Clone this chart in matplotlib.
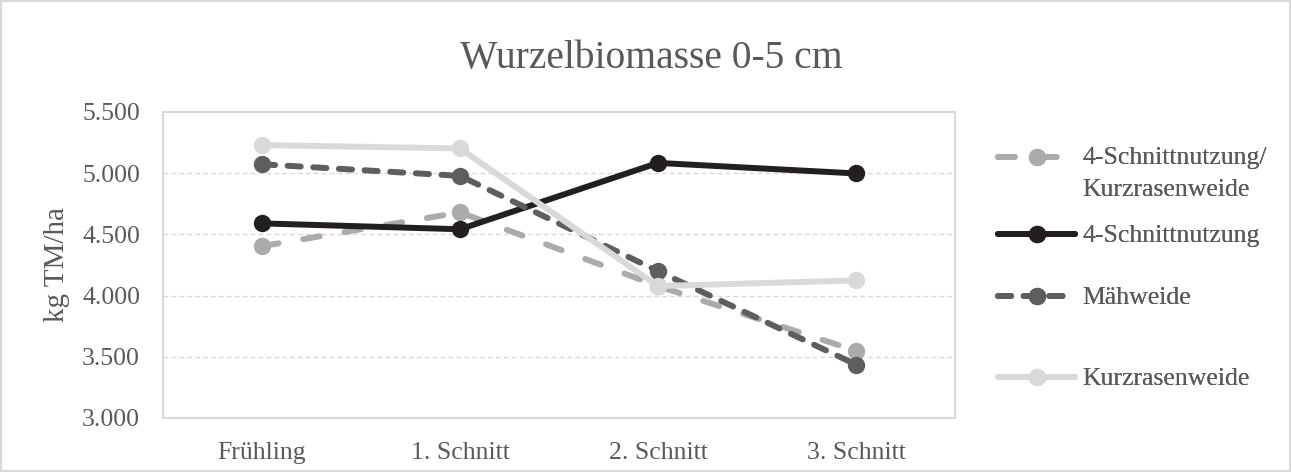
import matplotlib
matplotlib.use("Agg")
import matplotlib.pyplot as plt
from matplotlib.ticker import FuncFormatter, FixedLocator
from matplotlib.transforms import Affine2D
from matplotlib.lines import Line2D

categories = ["Frühling", "1. Schnitt", "2. Schnitt", "3. Schnitt"]
series_names = ["4-Schnittnutzung/\nKurzrasenweide", "4-Schnittnutzung", "Mähweide", "Kurzrasenweide"]
vier_kurz = [4404, 4680, 4078, 3549]
vier_schnitt = [4590, 4542, 5084, 4998]
maehweide = [5073, 4978, 4200, 3437]
kurzrasen = [5230, 5202, 4078, 4124]
y_ticks = [3000, 3500, 4000, 4500, 5000, 5500]

plt.rcParams['font.family'] = ['Liberation Serif', 'DejaVu Serif']
TXT = '#595959'
GRID = '#D9D9D9'

fig = plt.figure(figsize=(12.91, 4.72), dpi=100)
fig.patch.set_facecolor('white')
fig.patch.set_edgecolor(GRID)
fig.patch.set_linewidth(1.5)

ax = fig.add_axes([163/1291, 54/472, 792/1291, 306/472])

LW = 4.3
styles = [
    dict(color='#ABABAB', ls=(0, (2.8, 4.2))),
    dict(color='#231F20', ls='-'),
    dict(color='#5E5E5E', ls=(0, (2.2, 2.1))),
    dict(color='#D9D9D9', ls='-'),
]
data = [vier_kurz, vier_schnitt, maehweide, kurzrasen]
x = list(range(len(categories)))
lines = []
for i, (vals, st, name) in enumerate(zip(data, styles, series_names)):
    ln, = ax.plot(x, vals, color=st['color'], linestyle=st['ls'], linewidth=LW,
                  marker='o', markersize=11.5, markerfacecolor=st['color'],
                  markeredgecolor=st['color'], label=name, zorder=3 + i,
                  solid_capstyle='round', dash_capstyle='round')
    lines.append(ln)

ax.set_xlim(-0.5, len(categories) - 0.5)
ax.set_ylim(3000, 5500)
ax.set_xticks(x)
ax.set_xticklabels(categories)
ax.yaxis.set_major_locator(FixedLocator(y_ticks))
ax.yaxis.set_major_formatter(FuncFormatter(lambda v, p: f"{v:,.0f}".replace(",", ".")))
ax.tick_params(axis='both', length=0, labelsize=18.5, colors=TXT)
ax.tick_params(axis='x', pad=17)
ax.tick_params(axis='y', pad=16.5)
for t in ax.get_yticks():
    if 3000 < t < 5500:
        ax.axhline(t, color=GRID, lw=1.0, ls=(0, (3.5, 2.2)), zorder=1)
for s in ax.spines.values():
    s.set_color(GRID)
    s.set_linewidth(1.5)

ax.set_ylabel("kg TM/ha", fontsize=21, color=TXT)
ax.yaxis.set_label_coords((70 - 163) / 792, 0.5)
fig.text(651/1291, 1 - 68/472, "Wurzelbiomasse 0-5 cm", ha='center', va='baseline',
         fontsize=28.5, color=TXT)

legend_y = [174, 236, 298, 379]
for k, (ln, yy) in enumerate(zip(lines, legend_y)):
    leg = fig.legend(handles=[ln], loc='center left',
                     bbox_to_anchor=(998/1291, 1 - yy/472), frameon=False,
                     fontsize=18.5, labelcolor=TXT, handlelength=3.0,
                     handletextpad=0.27, borderpad=0, borderaxespad=0)
    if k == 0:
        leg.get_texts()[0].set_linespacing(1.55)
        # align the handle with the first text line
        for h in leg.findobj(Line2D):
            h.set_transform(h.get_transform() + Affine2D().translate(0, 17))
    fig.add_artist(leg)

fig.savefig("out.png", dpi=100)
